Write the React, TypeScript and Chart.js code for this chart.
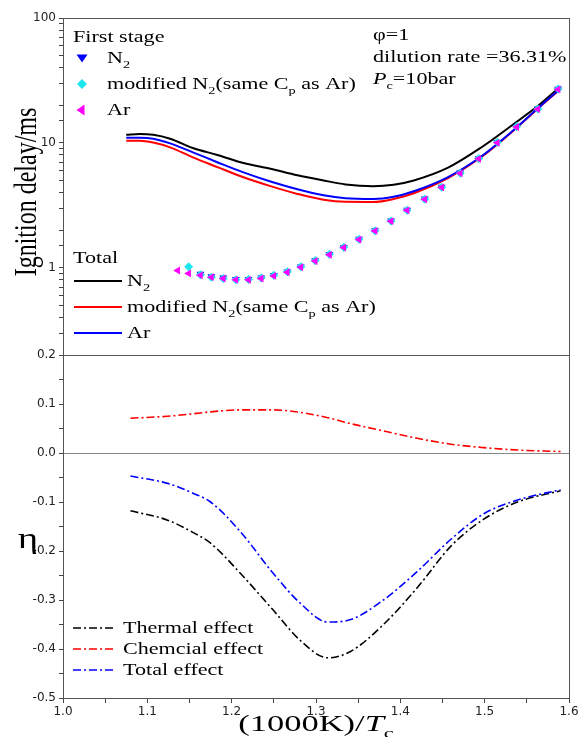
import React, { useEffect, useRef } from 'react';
import { Chart, registerables } from 'chart.js';

Chart.register(...registerables);

// ---------- Top panel: total ignition delay (ms) ----------
const totalX = [1.075, 1.091, 1.107, 1.127, 1.154, 1.183, 1.214, 1.246, 1.278, 1.309, 1.335, 1.368, 1.392, 1.416, 1.456, 1.495, 1.534, 1.563, 1.590];
const totalN2 = [11.6, 11.8, 11.6, 10.8, 9.1, 8.0, 6.9, 6.2, 5.5, 5.0, 4.65, 4.5, 4.62, 5.0, 6.3, 9.1, 14.1, 19.7, 28.3];
const totalModN2 = [10.4, 10.4, 10.05, 9.2, 7.65, 6.4, 5.3, 4.5, 3.9, 3.5, 3.37, 3.36, 3.55, 3.95, 5.2, 7.6, 12.5, 18.8, 27.0];
const totalAr = [11.0, 11.0, 10.8, 9.9, 8.4, 7.0, 5.8, 4.9, 4.25, 3.8, 3.6, 3.55, 3.7, 4.1, 5.3, 7.7, 12.6, 18.9, 27.3];

// ---------- Top panel: first-stage ignition delay (ms) ----------
const firstX = [1.136, 1.149, 1.163, 1.176, 1.190, 1.205, 1.220, 1.235, 1.250, 1.266, 1.282, 1.299, 1.316, 1.333, 1.351, 1.370, 1.389, 1.408, 1.429, 1.449, 1.471, 1.493, 1.515, 1.538, 1.563, 1.587];
const firstAr = [0.95, 0.90, 0.87, 0.84, 0.82, 0.80, 0.80, 0.82, 0.86, 0.92, 1.01, 1.13, 1.27, 1.45, 1.68, 1.97, 2.36, 2.88, 3.53, 4.40, 5.70, 7.45, 10.0, 13.4, 18.6, 26.8];
const firstModN2 = [null, 1.02, 0.88, 0.84, 0.82, 0.80, 0.81, 0.83, 0.87, 0.93, 1.02, 1.14, 1.28, 1.46, 1.69, 1.98, 2.37, 2.89, 3.54, 4.42, 5.72, 7.48, 10.1, 13.5, 18.7, 27.0];
const firstN2 = [null, null, 0.89, 0.85, 0.83, 0.81, 0.81, 0.83, 0.87, 0.93, 1.02, 1.14, 1.28, 1.46, 1.70, 1.99, 2.38, 2.90, 3.56, 4.43, 5.75, 7.5, 10.1, 13.5, 18.8, 27.0];

// ---------- Bottom panel: eta ----------
const etaX = [1.080, 1.124, 1.154, 1.175, 1.210, 1.249, 1.281, 1.314, 1.341, 1.380, 1.420, 1.460, 1.499, 1.539, 1.590];
const etaThermal = [-0.118, -0.137, -0.162, -0.184, -0.245, -0.320, -0.382, -0.418, -0.405, -0.350, -0.275, -0.190, -0.135, -0.100, -0.077];
const etaChemical = [0.071, 0.075, 0.080, 0.084, 0.088, 0.088, 0.083, 0.072, 0.060, 0.045, 0.030, 0.018, 0.011, 0.006, 0.003];
const etaTotal = [-0.047, -0.062, -0.082, -0.100, -0.160, -0.245, -0.306, -0.345, -0.340, -0.300, -0.242, -0.176, -0.124, -0.096, -0.075];

// ---------- Axis ranges ----------
const xMin = 1.0, xMax = 1.6, xStep = 0.05;
const delayMin = 0.2, delayMax = 100;
const etaMin = -0.5, etaMax = 0.2, etaStep = 0.05;

const SERIF = '"Liberation Serif", "Times New Roman", serif';
const SX = 1.3; // horizontal stretch of the original figure's text
const LF = 17; // legend font size

type Run = { t: string; sub?: boolean; it?: boolean };

function runsWidth(ctx: CanvasRenderingContext2D, runs: Run[], size: number, sx = SX) {
  let w = 0;
  for (const r of runs) {
    const fs = r.sub ? size * 0.65 : size;
    ctx.font = `${r.it ? 'italic ' : ''}${fs}px ${SERIF}`;
    w += ctx.measureText(r.t).width * sx;
  }
  return w;
}

function drawRuns(ctx: CanvasRenderingContext2D, runs: Run[], x: number, y: number, size: number, sx = SX) {
  let cx = x;
  for (const r of runs) {
    const fs = r.sub ? size * 0.65 : size;
    ctx.save();
    ctx.font = `${r.it ? 'italic ' : ''}${fs}px ${SERIF}`;
    ctx.fillStyle = '#000';
    ctx.textBaseline = 'alphabetic';
    ctx.textAlign = 'left';
    ctx.translate(cx, y + (r.sub ? size * 0.3 : 0));
    ctx.scale(sx, 1);
    ctx.fillText(r.t, 0, 0);
    const w = ctx.measureText(r.t).width * sx;
    ctx.restore();
    cx += w;
  }
  return cx - x;
}

function marker(ctx: CanvasRenderingContext2D, kind: string, cx: number, cy: number, r: number, color: string) {
  ctx.save();
  ctx.fillStyle = color;
  ctx.beginPath();
  if (kind === 'down') {
    ctx.moveTo(cx - r * 1.1, cy - r * 0.7);
    ctx.lineTo(cx + r * 1.1, cy - r * 0.7);
    ctx.lineTo(cx, cy + r * 0.9);
  } else if (kind === 'left') {
    ctx.moveTo(cx + r * 0.7, cy - r * 1.1);
    ctx.lineTo(cx + r * 0.7, cy + r * 1.1);
    ctx.lineTo(cx - r * 0.9, cy);
  } else {
    ctx.moveTo(cx, cy - r);
    ctx.lineTo(cx + r, cy);
    ctx.lineTo(cx, cy + r);
    ctx.lineTo(cx - r, cy);
  }
  ctx.closePath();
  ctx.fill();
  ctx.restore();
}

const decorPlugin = {
  id: 'decor',
  afterDraw(chart: any) {
    const { ctx, chartArea: a, scales } = chart;
    ctx.save();
    // frame
    ctx.strokeStyle = '#555';
    ctx.lineWidth = 1;
    ctx.strokeRect(Math.round(a.left) + 0.5, Math.round(a.top) + 0.5, Math.round(a.right - a.left), Math.round(a.bottom - a.top));
    const yb = Math.round(scales.yEta.top) + 0.5;
    ctx.beginPath();
    ctx.moveTo(a.left, yb);
    ctx.lineTo(a.right, yb);
    ctx.stroke();

    // First stage legend
    drawRuns(ctx, [{ t: 'First stage' }], 73, 42, LF);
    marker(ctx, 'down', 82, 58, 5, '#0000ff');
    drawRuns(ctx, [{ t: 'N' }, { t: '2', sub: true }], 107, 63, LF);
    marker(ctx, 'diamond', 82, 84, 5, '#1ee6ee');
    drawRuns(ctx, [{ t: 'modified N' }, { t: '2', sub: true }, { t: '(same C' }, { t: 'p', sub: true }, { t: ' as Ar)' }], 107, 89, LF);
    marker(ctx, 'left', 81, 110, 5, '#ff00ff');
    drawRuns(ctx, [{ t: 'Ar' }], 107, 115, LF);

    // conditions
    drawRuns(ctx, [{ t: 'φ=1' }], 373, 40, LF);
    drawRuns(ctx, [{ t: 'dilution rate =36.31%' }], 373, 62, LF);
    drawRuns(ctx, [{ t: 'P', it: true }, { t: 'c', sub: true }, { t: '=10bar' }], 373, 84, LF);

    // Total legend
    drawRuns(ctx, [{ t: 'Total' }], 73, 263, LF);
    const tl = [
      { c: '#000000', y: 281, runs: [{ t: 'N' }, { t: '2', sub: true }] },
      { c: '#ff0000', y: 307, runs: [{ t: 'modified N' }, { t: '2', sub: true }, { t: '(same C' }, { t: 'p', sub: true }, { t: ' as Ar)' }] },
      { c: '#0000ff', y: 333, runs: [{ t: 'Ar' }] },
    ];
    for (const r of tl) {
      ctx.strokeStyle = r.c;
      ctx.lineWidth = 2;
      ctx.setLineDash([]);
      ctx.beginPath();
      ctx.moveTo(74, r.y);
      ctx.lineTo(122, r.y);
      ctx.stroke();
      drawRuns(ctx, r.runs, 127, r.y + 5, LF);
    }

    // eta legend
    const el = [
      { c: '#000000', y: 628, t: 'Thermal effect' },
      { c: '#ff0000', y: 649, t: 'Chemcial effect' },
      { c: '#0000ff', y: 670, t: 'Total effect' },
    ];
    for (const r of el) {
      ctx.strokeStyle = r.c;
      ctx.lineWidth = 1.6;
      ctx.setLineDash([8, 3, 2, 3]);
      ctx.beginPath();
      ctx.moveTo(73, r.y);
      ctx.lineTo(116, r.y);
      ctx.stroke();
      ctx.setLineDash([]);
      drawRuns(ctx, [{ t: r.t }], 123, r.y + 5, LF);
    }

    // x title
    const xr: Run[] = [{ t: '(1000K)/' }, { t: 'T', it: true }, { t: 'c', sub: true }];
    const w = runsWidth(ctx, xr, 23, 1.5);
    drawRuns(ctx, xr, (a.left + a.right) / 2 - w / 2, 731, 23, 1.5);

    // y titles
    ctx.save();
    ctx.translate(27, 192);
    ctx.rotate(-Math.PI / 2);
    ctx.scale(1, 1.35);
    ctx.font = `24px ${SERIF}`;
    ctx.fillStyle = '#000';
    ctx.textAlign = 'center';
    ctx.textBaseline = 'middle';
    ctx.fillText('Ignition delay/ms', 0, 0);
    ctx.restore();

    ctx.save();
    ctx.translate(28, 540);
    ctx.scale(SX, 1);
    ctx.font = `30px ${SERIF}`;
    ctx.fillStyle = '#000';
    ctx.textAlign = 'center';
    ctx.textBaseline = 'middle';
    ctx.fillText('η', 0, 0);
    ctx.restore();

    ctx.restore();
  },
};

function pts(xs: number[], ys: (number | null)[]) {
  const out: { x: number; y: number }[] = [];
  xs.forEach((x, i) => {
    const y = ys[i];
    if (y !== null && y !== undefined) out.push({ x, y });
  });
  return out;
}

const tickFont = { family: '"DejaVu Sans", Arial, sans-serif', size: 12 };

export default function App() {
  const ref = useRef<HTMLCanvasElement>(null);
  useEffect(() => {
    const canvas = ref.current!;
    const lineDs = (label: string, xs: number[], ys: number[], color: string, axis: string, dash: number[] = [], width = 2) => ({
      label,
      data: pts(xs, ys),
      yAxisID: axis,
      showLine: true,
      borderColor: color,
      backgroundColor: color,
      borderWidth: width,
      borderDash: dash,
      pointRadius: 0,
      cubicInterpolationMode: 'monotone',
    });
    const scatDs = (label: string, ys: (number | null)[], color: string, style: string, rotation: number, r = 4.5) => ({
      label,
      data: pts(firstX, ys),
      yAxisID: 'yDelay',
      showLine: false,
      pointStyle: style,
      rotation,
      pointRadius: r,
      pointBackgroundColor: color,
      pointBorderColor: color,
      pointBorderWidth: 0,
      backgroundColor: color,
      borderColor: color,
    });
    const chart = new Chart(canvas, {
      type: 'scatter',
      data: {
        datasets: [
          scatDs('Ar first', firstAr, '#ff00ff', 'triangle', 270),
          scatDs('modified N2 first', firstModN2, '#1ee6ee', 'rectRot', 0, 4.5),
          scatDs('N2 first', firstN2, '#0000ff', 'triangle', 180),
          lineDs('Ar total', totalX, totalAr, '#0000ff', 'yDelay'),
          lineDs('modified N2 total', totalX, totalModN2, '#ff0000', 'yDelay'),
          lineDs('N2 total', totalX, totalN2, '#000000', 'yDelay'),
          lineDs('Total effect', etaX, etaTotal, '#0000ff', 'yEta', [8, 3, 2, 3], 1.6),
          lineDs('Chemcial effect', etaX, etaChemical, '#ff0000', 'yEta', [8, 3, 2, 3], 1.6),
          lineDs('Thermal effect', etaX, etaThermal, '#000000', 'yEta', [8, 3, 2, 3], 1.6),
        ] as any,
      },
      options: {
        responsive: false,
        animation: false,
        devicePixelRatio: 1,
        layout: { padding: { top: 18, right: 13, left: 0, bottom: 0 } },
        plugins: { legend: { display: false }, tooltip: { enabled: false } },
        scales: {
          x: {
            type: 'linear',
            position: 'bottom',
            min: xMin,
            max: xMax,
            afterFit: (s: any) => { s.height = 39; },
            ticks: {
              stepSize: xStep,
              autoSkip: false,
              maxRotation: 0,
              padding: 2,
              color: '#222',
              font: tickFont,
              callback: (v: any) => {
                const n = Number(v);
                return Math.abs(n * 10 - Math.round(n * 10)) < 1e-6 ? n.toFixed(1) : '';
              },
            },
            grid: { drawOnChartArea: false, tickLength: 5, tickColor: '#444' },
            border: { display: false },
          },
          yEta: {
            type: 'linear',
            position: 'left',
            stack: 'v',
            stackWeight: 343,
            min: etaMin,
            max: etaMax,
            afterFit: (s: any) => { s.width = 63; },
            ticks: {
              stepSize: etaStep,
              autoSkip: false,
              padding: 3,
              color: '#222',
              font: tickFont,
              callback: (v: any) => {
                const n = Number(v);
                if (Math.abs(n) < 1e-9) return '0.0';
                return Math.abs(n * 10 - Math.round(n * 10)) < 1e-6 ? n.toFixed(1) : '';
              },
            },
            grid: {
              drawOnChartArea: true,
              tickLength: 4,
              tickColor: '#444',
              color: (c: any) => (c.tick && Math.abs(c.tick.value) < 1e-9 ? '#888' : 'rgba(0,0,0,0)'),
            },
            border: { display: false },
          },
          yDelay: {
            type: 'logarithmic',
            position: 'left',
            stack: 'v',
            stackWeight: 337,
            min: delayMin,
            max: delayMax,
            afterFit: (s: any) => { s.width = 63; },
            ticks: {
              autoSkip: false,
              padding: 3,
              color: '#222',
              font: tickFont,
              callback: (v: any) => {
                const n = Number(v);
                const l = Math.log10(n);
                return Math.abs(l - Math.round(l)) < 1e-6 && n >= 1 ? String(Math.round(n)) : '';
              },
            },
            grid: { drawOnChartArea: false, tickLength: 4, tickColor: '#444' },
            border: { display: false },
          },
        },
      } as any,
      plugins: [decorPlugin],
    });
    return () => chart.destroy();
  }, []);
  return (
    <div style={{ position: 'absolute', left: 0, top: 0, width: 582, height: 737, background: '#fff' }}>
      <canvas ref={ref} width={582} height={737} style={{ display: 'block', width: 582, height: 737 }} />
    </div>
  );
}
